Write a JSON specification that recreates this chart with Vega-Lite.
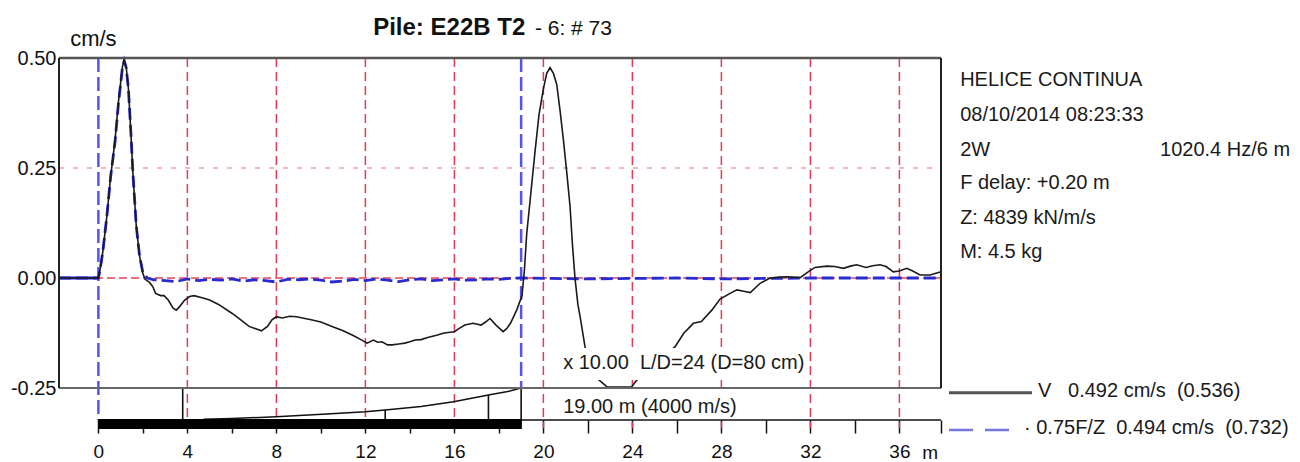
{
  "$schema": "https://vega.github.io/schema/vega-lite/v6.json",
  "width": 882,
  "height": 362,
  "autosize": {"type": "none"},
  "padding": {"left": 59, "top": 58, "right": 359, "bottom": 42},
  "background": "white",
  "config": {"view": {"stroke": null}, "font": "Liberation Sans"},
  "datasets": {
    "V": [
      {"x": -1.77, "y": 0}, {"x": -0.5, "y": 0}, {"x": 0, "y": 0}, {"x": 0.08, "y": 0.02}, {"x": 0.2, "y": 0.06},
      {"x": 0.38, "y": 0.14}, {"x": 0.55, "y": 0.23}, {"x": 0.75, "y": 0.314}, {"x": 0.9, "y": 0.4}, {"x": 0.98, "y": 0.435},
      {"x": 1.08, "y": 0.48}, {"x": 1.16, "y": 0.495}, {"x": 1.25, "y": 0.48}, {"x": 1.35, "y": 0.43}, {"x": 1.45, "y": 0.34},
      {"x": 1.55, "y": 0.24}, {"x": 1.7, "y": 0.12}, {"x": 1.85, "y": 0.05}, {"x": 2.0, "y": 0.01}, {"x": 2.1, "y": -0.003},
      {"x": 2.3, "y": -0.01}, {"x": 2.45, "y": -0.02}, {"x": 2.57, "y": -0.035}, {"x": 2.8, "y": -0.04}, {"x": 2.95, "y": -0.04},
      {"x": 3.14, "y": -0.05}, {"x": 3.35, "y": -0.068}, {"x": 3.5, "y": -0.073}, {"x": 3.65, "y": -0.065}, {"x": 3.88, "y": -0.05},
      {"x": 4.1, "y": -0.042}, {"x": 4.3, "y": -0.04}, {"x": 4.66, "y": -0.045}, {"x": 5.0, "y": -0.05}, {"x": 5.4, "y": -0.06},
      {"x": 6.0, "y": -0.08}, {"x": 6.4, "y": -0.095}, {"x": 6.77, "y": -0.11}, {"x": 7.33, "y": -0.12}, {"x": 7.6, "y": -0.11},
      {"x": 7.8, "y": -0.095}, {"x": 8.0, "y": -0.088}, {"x": 8.26, "y": -0.091}, {"x": 8.6, "y": -0.087}, {"x": 8.9, "y": -0.088},
      {"x": 9.56, "y": -0.095}, {"x": 10.0, "y": -0.1}, {"x": 10.5, "y": -0.11}, {"x": 11.0, "y": -0.12}, {"x": 11.43, "y": -0.13},
      {"x": 11.8, "y": -0.14}, {"x": 12.08, "y": -0.148}, {"x": 12.36, "y": -0.141}, {"x": 12.55, "y": -0.146}, {"x": 12.74, "y": -0.145},
      {"x": 13.0, "y": -0.152}, {"x": 13.2, "y": -0.152}, {"x": 13.5, "y": -0.15}, {"x": 13.77, "y": -0.148}, {"x": 14.0, "y": -0.145},
      {"x": 14.23, "y": -0.141}, {"x": 14.5, "y": -0.14}, {"x": 14.8, "y": -0.135}, {"x": 15.2, "y": -0.13}, {"x": 15.54, "y": -0.125},
      {"x": 16.0, "y": -0.122}, {"x": 16.2, "y": -0.115}, {"x": 16.47, "y": -0.107}, {"x": 16.84, "y": -0.103}, {"x": 17.2, "y": -0.107},
      {"x": 17.4, "y": -0.1}, {"x": 17.6, "y": -0.092}, {"x": 17.87, "y": -0.107}, {"x": 18.19, "y": -0.122}, {"x": 18.35, "y": -0.115},
      {"x": 18.52, "y": -0.103}, {"x": 18.8, "y": -0.073}, {"x": 19.04, "y": -0.04}, {"x": 19.15, "y": 0.02}, {"x": 19.25, "y": 0.1},
      {"x": 19.45, "y": 0.2}, {"x": 19.63, "y": 0.29}, {"x": 19.8, "y": 0.37}, {"x": 20.0, "y": 0.43}, {"x": 20.15, "y": 0.465},
      {"x": 20.3, "y": 0.478}, {"x": 20.45, "y": 0.465}, {"x": 20.6, "y": 0.44}, {"x": 20.75, "y": 0.38}, {"x": 20.9, "y": 0.314},
      {"x": 21.05, "y": 0.24}, {"x": 21.2, "y": 0.162}, {"x": 21.3, "y": 0.08}, {"x": 21.42, "y": 0.0}, {"x": 21.55, "y": -0.06},
      {"x": 21.65, "y": -0.088}, {"x": 21.87, "y": -0.156}, {"x": 22.1, "y": -0.2}, {"x": 22.4, "y": -0.228}, {"x": 22.6, "y": -0.236},
      {"x": 22.85, "y": -0.247}, {"x": 23.4, "y": -0.248}, {"x": 23.97, "y": -0.247}, {"x": 24.2, "y": -0.232}, {"x": 24.6, "y": -0.21},
      {"x": 25.0, "y": -0.195}, {"x": 25.5, "y": -0.175}, {"x": 25.92, "y": -0.156}, {"x": 26.3, "y": -0.126}, {"x": 26.74, "y": -0.103},
      {"x": 27.1, "y": -0.099}, {"x": 27.57, "y": -0.073}, {"x": 27.94, "y": -0.048}, {"x": 28.39, "y": -0.035}, {"x": 28.7, "y": -0.027},
      {"x": 29.0, "y": -0.03}, {"x": 29.3, "y": -0.033}, {"x": 29.74, "y": -0.012}, {"x": 30.19, "y": 0.0}, {"x": 30.6, "y": 0.002},
      {"x": 30.94, "y": 0.003}, {"x": 31.54, "y": 0.001}, {"x": 31.9, "y": 0.014}, {"x": 32.2, "y": 0.024}, {"x": 32.74, "y": 0.027},
      {"x": 33.1, "y": 0.026}, {"x": 33.48, "y": 0.022}, {"x": 33.8, "y": 0.027}, {"x": 34.08, "y": 0.03}, {"x": 34.5, "y": 0.024},
      {"x": 34.8, "y": 0.028}, {"x": 35.13, "y": 0.03}, {"x": 35.4, "y": 0.026}, {"x": 35.73, "y": 0.014}, {"x": 36.0, "y": 0.016},
      {"x": 36.33, "y": 0.022}, {"x": 36.6, "y": 0.016}, {"x": 36.93, "y": 0.007}, {"x": 37.38, "y": 0.007}, {"x": 37.87, "y": 0.014}
    ],
    "F": [
      {"x": -1.77, "y": 0}, {"x": 0, "y": 0}, {"x": 0.08, "y": 0.02}, {"x": 0.2, "y": 0.06}, {"x": 0.38, "y": 0.14},
      {"x": 0.55, "y": 0.23}, {"x": 0.75, "y": 0.31}, {"x": 0.9, "y": 0.395}, {"x": 1.08, "y": 0.478}, {"x": 1.16, "y": 0.494},
      {"x": 1.25, "y": 0.478}, {"x": 1.35, "y": 0.43}, {"x": 1.45, "y": 0.34}, {"x": 1.55, "y": 0.24}, {"x": 1.7, "y": 0.12},
      {"x": 1.85, "y": 0.05}, {"x": 2.0, "y": 0.012}, {"x": 2.2, "y": 0.0}, {"x": 2.5, "y": -0.004}, {"x": 3.0, "y": -0.006},
      {"x": 3.5, "y": -0.008}, {"x": 4.0, "y": -0.002}, {"x": 4.5, "y": -0.006}, {"x": 5.0, "y": -0.003}, {"x": 5.5, "y": -0.005},
      {"x": 6.0, "y": -0.002}, {"x": 6.5, "y": -0.007}, {"x": 7.0, "y": -0.004}, {"x": 7.5, "y": -0.006}, {"x": 8.0, "y": -0.009},
      {"x": 8.5, "y": -0.003}, {"x": 9.0, "y": -0.004}, {"x": 9.5, "y": -0.002}, {"x": 10.0, "y": -0.005}, {"x": 10.5, "y": -0.009},
      {"x": 11.0, "y": -0.007}, {"x": 11.5, "y": -0.003}, {"x": 12.0, "y": -0.006}, {"x": 12.5, "y": -0.002}, {"x": 13.0, "y": -0.005},
      {"x": 13.5, "y": -0.008}, {"x": 14.0, "y": -0.004}, {"x": 14.5, "y": -0.002}, {"x": 15.0, "y": -0.006}, {"x": 15.5, "y": -0.004},
      {"x": 16.0, "y": -0.002}, {"x": 16.5, "y": -0.005}, {"x": 17.0, "y": -0.004}, {"x": 17.5, "y": -0.002}, {"x": 18.0, "y": -0.003},
      {"x": 18.5, "y": -0.001}, {"x": 19.0, "y": 0.0}, {"x": 22.0, "y": -0.002}, {"x": 26.0, "y": 0.0}, {"x": 28.0, "y": -0.002},
      {"x": 32.0, "y": 0.0}, {"x": 37.87, "y": 0.0}
    ],
    "pile": [
      {"x": 4.72, "y": -0.3211}, {"x": 6.0, "y": -0.3195}, {"x": 8.0, "y": -0.3152}, {"x": 10.26, "y": -0.309},
      {"x": 12.0, "y": -0.3039}, {"x": 12.89, "y": -0.3}, {"x": 14.5, "y": -0.292}, {"x": 15.96, "y": -0.2811},
      {"x": 17.53, "y": -0.2659}, {"x": 18.4, "y": -0.258}, {"x": 18.95, "y": -0.2507}
    ],
    "seg": [
      {"k": "hpink", "x": -1.77, "x2": 37.87, "y": 0.25, "y2": 0.25},
      {"k": "hzero", "x": -1.77, "x2": 37.87, "y": 0, "y2": 0},
      {"k": "zlead", "x": -1.77, "x2": 0, "y": 0, "y2": 0},
      {"k": "vgrid", "x": 4, "x2": 4, "y": 0.5, "y2": -0.3409},
      {"k": "vgrid", "x": 8, "x2": 8, "y": 0.5, "y2": -0.3409},
      {"k": "vgrid", "x": 12, "x2": 12, "y": 0.5, "y2": -0.3409},
      {"k": "vgrid", "x": 16, "x2": 16, "y": 0.5, "y2": -0.3409},
      {"k": "vgrid", "x": 20, "x2": 20, "y": 0.5, "y2": -0.3409},
      {"k": "vgrid", "x": 24, "x2": 24, "y": 0.5, "y2": -0.3409},
      {"k": "vgrid", "x": 28, "x2": 28, "y": 0.5, "y2": -0.3409},
      {"k": "vgrid", "x": 32, "x2": 32, "y": 0.5, "y2": -0.3409},
      {"k": "vgrid", "x": 36, "x2": 36, "y": 0.5, "y2": -0.3409},
      {"k": "vblue", "x": 0, "x2": 0, "y": 0.5, "y2": -0.3227},
      {"k": "vblue", "x": 19, "x2": 19, "y": 0.5, "y2": -0.25},
      {"k": "pile", "x": 3.79, "x2": 3.79, "y": -0.25, "y2": -0.3227},
      {"k": "pile", "x": 12.89, "x2": 12.89, "y": -0.3, "y2": -0.3227},
      {"k": "pile", "x": 17.53, "x2": 17.53, "y": -0.2659, "y2": -0.3227},
      {"k": "pile", "x": 19, "x2": 19, "y": -0.25, "y2": -0.3432},
      {"k": "axis", "x": 0, "x2": 37.87, "y": -0.3227, "y2": -0.3227},
      {"k": "frameTop", "x": -1.77, "x2": 37.87, "y": 0.5, "y2": 0.5},
      {"k": "frameBot", "x": -1.77, "x2": 37.87, "y": -0.25, "y2": -0.25},
      {"k": "frameSide", "x": -1.77, "x2": -1.77, "y": -0.25, "y2": 0.5},
      {"k": "frameSide", "x": 37.87, "x2": 37.87, "y": -0.25, "y2": 0.5},
      {"k": "legV", "x": 38.23, "x2": 41.96, "y": -0.261, "y2": -0.261},
      {"k": "legF", "x": 38.23, "x2": 41.0, "y": -0.3455, "y2": -0.3455}
    ],
    "boxes": [
      {"k": "white", "x": 20.53, "x2": 31.76, "y": -0.159, "y2": -0.232},
      {"k": "white", "x": 20.53, "x2": 28.84, "y": -0.2523, "y2": -0.3205},
      {"k": "bar", "x": 0, "x2": 19, "y": -0.3205, "y2": -0.3432}
    ],
    "texts": [
      {"k": "titleB", "x": 12.35, "y": 0.552, "t": "Pile: E22B T2"},
      {"k": "titleR", "x": 19.62, "y": 0.552, "t": "- 6: # 73"},
      {"k": "unit", "x": -1.27, "y": 0.527, "t": "cm/s"},
      {"k": "info", "x": 38.73, "y": 0.45, "t": "HELICE CONTINUA"},
      {"k": "info", "x": 38.73, "y": 0.3705, "t": "08/10/2014 08:23:33"},
      {"k": "info", "x": 38.73, "y": 0.2909, "t": "2W"},
      {"k": "infoR", "x": 53.56, "y": 0.2909, "t": "1020.4 Hz/6 m"},
      {"k": "info", "x": 38.73, "y": 0.216, "t": "F delay: +0.20 m"},
      {"k": "info", "x": 38.73, "y": 0.1364, "t": "Z: 4839 kN/m/s"},
      {"k": "info", "x": 38.73, "y": 0.0591, "t": "M: 4.5 kg"},
      {"k": "info", "x": 42.23, "y": -0.257, "t": "V\u00a0\u00a0 0.492 cm/s\u00a0 (0.536)"},
      {"k": "info", "x": 41.6, "y": -0.341, "t": "\u00b7 0.75F/Z\u00a0 0.494 cm/s\u00a0 (0.732)"},
      {"k": "info", "x": 20.89, "y": -0.193, "t": "x 10.00\u00a0 L/D=24 (D=80 cm)"},
      {"k": "info", "x": 20.89, "y": -0.293, "t": "19.00 m (4000 m/s)"},
      {"k": "axm", "x": 37.38, "y": -0.398, "t": "m"}
    ]
  },
  "encoding": {
    "x": {
      "field": "x", "type": "quantitative", "title": null,
      "scale": {"domain": [-1.77, 37.87], "nice": false, "zero": false},
      "axis": {
        "values": [0, 2, 4, 6, 8, 10, 12, 14, 16, 18, 20, 22, 24, 26, 28, 30, 32, 34, 36, 37.87],
        "labelExpr": "datum.value % 4 == 0 ? datum.label : ''",
        "domain": false, "grid": false, "ticks": true, "tickSize": 13, "tickColor": "#111", "tickWidth": 1.5,
        "labelFontSize": 19, "labelFont": "Liberation Sans", "labelColor": "#111", "labelPadding": 9,
        "labelFlush": false, "labelOverlap": false, "title": null
      }
    },
    "y": {
      "field": "y", "type": "quantitative", "title": null,
      "scale": {"domain": [-0.3227, 0.5], "nice": false, "zero": false},
      "axis": {
        "values": [-0.25, 0, 0.25, 0.5],
        "labelExpr": "datum.value < 0 ? '-0.25' : format(datum.value, '.2f')",
        "domain": false, "grid": false, "ticks": false,
        "labelFontSize": 20, "labelFont": "Liberation Sans", "labelColor": "#111", "labelPadding": 3, "title": null
      }
    }
  },
  "layer": [
    {"data": {"name": "seg"}, "transform": [{"filter": "datum.k == 'hpink'"}],
     "mark": {"type": "rule", "color": "#f2a0b4", "strokeWidth": 1.5, "strokeDash": [5, 9]},
     "encoding": {"x2": {"field": "x2"}, "y2": {"field": "y2"}}},
    {"data": {"name": "seg"}, "transform": [{"filter": "datum.k == 'hzero'"}],
     "mark": {"type": "rule", "color": "#e8405a", "strokeWidth": 1.5, "strokeDash": [8, 4]},
     "encoding": {"x2": {"field": "x2"}, "y2": {"field": "y2"}}},
    {"data": {"name": "seg"}, "transform": [{"filter": "datum.k == 'vgrid'"}],
     "mark": {"type": "rule", "color": "#e03c55", "strokeWidth": 1.5, "strokeDash": [9, 5]},
     "encoding": {"x2": {"field": "x2"}, "y2": {"field": "y2"}}},
    {"data": {"name": "seg"}, "transform": [{"filter": "datum.k == 'vblue'"}],
     "mark": {"type": "rule", "color": "#5555ee", "strokeWidth": 2.5, "strokeDash": [14, 5]},
     "encoding": {"x2": {"field": "x2"}, "y2": {"field": "y2"}}},
    {"data": {"name": "seg"}, "transform": [{"filter": "datum.k == 'zlead'"}],
     "mark": {"type": "rule", "color": "#2a2ad0", "strokeWidth": 3},
     "encoding": {"x2": {"field": "x2"}, "y2": {"field": "y2"}}},
    {"data": {"name": "F"},
     "mark": {"type": "line", "color": "#2a2ad0", "strokeWidth": 2.8, "strokeDash": [12, 5]}},
    {"data": {"name": "V"},
     "mark": {"type": "line", "color": "#1a1a1a", "strokeWidth": 1.6}},
    {"data": {"name": "boxes"}, "transform": [{"filter": "datum.k == 'white'"}],
     "mark": {"type": "rect", "color": "white"},
     "encoding": {"x2": {"field": "x2"}, "y2": {"field": "y2"}}},
    {"data": {"name": "pile"},
     "mark": {"type": "line", "color": "#111", "strokeWidth": 1.5}},
    {"data": {"name": "seg"}, "transform": [{"filter": "datum.k == 'pile' || datum.k == 'axis'"}],
     "mark": {"type": "rule", "color": "#111", "strokeWidth": 1.6},
     "encoding": {"x2": {"field": "x2"}, "y2": {"field": "y2"}}},
    {"data": {"name": "boxes"}, "transform": [{"filter": "datum.k == 'bar'"}],
     "mark": {"type": "rect", "color": "#000"},
     "encoding": {"x2": {"field": "x2"}, "y2": {"field": "y2"}}},
    {"data": {"name": "seg"}, "transform": [{"filter": "datum.k == 'frameTop'"}],
     "mark": {"type": "rule", "color": "#555", "strokeWidth": 2.5},
     "encoding": {"x2": {"field": "x2"}, "y2": {"field": "y2"}}},
    {"data": {"name": "seg"}, "transform": [{"filter": "datum.k == 'frameBot'"}],
     "mark": {"type": "rule", "color": "#666", "strokeWidth": 2},
     "encoding": {"x2": {"field": "x2"}, "y2": {"field": "y2"}}},
    {"data": {"name": "seg"}, "transform": [{"filter": "datum.k == 'frameSide'"}],
     "mark": {"type": "rule", "color": "#222", "strokeWidth": 2},
     "encoding": {"x2": {"field": "x2"}, "y2": {"field": "y2"}}},
    {"data": {"name": "seg"}, "transform": [{"filter": "datum.k == 'legV'"}],
     "mark": {"type": "rule", "color": "#555", "strokeWidth": 3},
     "encoding": {"x2": {"field": "x2"}, "y2": {"field": "y2"}}},
    {"data": {"name": "seg"}, "transform": [{"filter": "datum.k == 'legF'"}],
     "mark": {"type": "rule", "color": "#7777e0", "strokeWidth": 2.5, "strokeDash": [24, 12]},
     "encoding": {"x2": {"field": "x2"}, "y2": {"field": "y2"}}},
    {"data": {"name": "texts"}, "transform": [{"filter": "datum.k == 'titleB'"}],
     "mark": {"type": "text", "font": "Liberation Sans", "fontSize": 24, "fontWeight": "bold", "align": "left", "baseline": "alphabetic", "color": "#111"},
     "encoding": {"text": {"field": "t"}}},
    {"data": {"name": "texts"}, "transform": [{"filter": "datum.k == 'titleR'"}],
     "mark": {"type": "text", "font": "Liberation Sans", "fontSize": 21, "align": "left", "baseline": "alphabetic", "color": "#111"},
     "encoding": {"text": {"field": "t"}}},
    {"data": {"name": "texts"}, "transform": [{"filter": "datum.k == 'unit'"}],
     "mark": {"type": "text", "font": "Liberation Sans", "fontSize": 22, "align": "left", "baseline": "alphabetic", "color": "#111"},
     "encoding": {"text": {"field": "t"}}},
    {"data": {"name": "texts"}, "transform": [{"filter": "datum.k == 'info'"}],
     "mark": {"type": "text", "font": "Liberation Sans", "fontSize": 20, "align": "left", "baseline": "middle", "color": "#1a1a1a"},
     "encoding": {"text": {"field": "t"}}},
    {"data": {"name": "texts"}, "transform": [{"filter": "datum.k == 'infoR'"}],
     "mark": {"type": "text", "font": "Liberation Sans", "fontSize": 20, "align": "right", "baseline": "middle", "color": "#1a1a1a"},
     "encoding": {"text": {"field": "t"}}},
    {"data": {"name": "texts"}, "transform": [{"filter": "datum.k == 'axm'"}],
     "mark": {"type": "text", "font": "Liberation Sans", "fontSize": 19, "align": "center", "baseline": "middle", "color": "#111"},
     "encoding": {"text": {"field": "t"}}}
  ]
}
